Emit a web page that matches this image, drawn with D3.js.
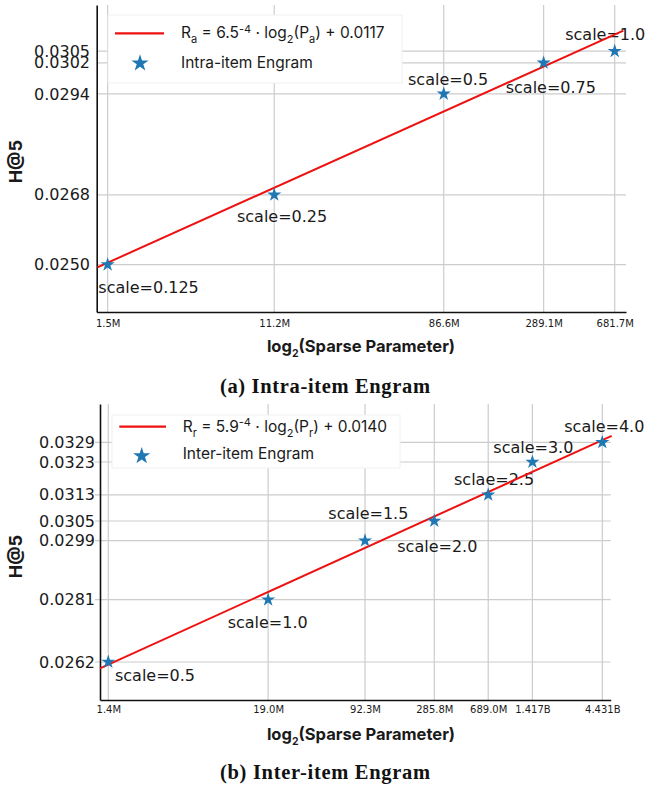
<!DOCTYPE html>
<html><head><meta charset="utf-8">
<script src="https://cdn.jsdelivr.net/npm/d3@7"></script>
<style>body{margin:0;background:#fff} svg{display:block}</style>
</head><body><svg id="c" width="645" height="788"></svg>
<script>
// ---------- Data: (a) Intra-item Engram ----------
const paramsA = [1.5e6, 11.2e6, 86.6e6, 289.1e6, 681.7e6];
const h5A = [0.0250, 0.0268, 0.0294, 0.0302, 0.0305];
const pointLabelsA = ["scale=0.125", "scale=0.25", "scale=0.5", "scale=0.75", "scale=1.0"];
const xTickLabelsA = ["1.5M", "11.2M", "86.6M", "289.1M", "681.7M"];
const yTicksA = [0.0250, 0.0268, 0.0294, 0.0302, 0.0305];
const fitA = [0.000666, 0.011386];          // slope, intercept (vs log2 P)
const fitRangeA = [20.338, 29.495];         // log2 P extent of fitted line
const legendFormulaA = [["R", ""], ["a", "sub"], [" = 6.5", ""], ["-4", "sup"], [" · log", ""], ["2", "sub"], ["(P", ""], ["a", "sub"], [") + 0.0117", ""]];
const legendSeriesA = "Intra-item Engram";
const captionA = "(a) Intra-item Engram";

// ---------- Data: (b) Inter-item Engram ----------
const paramsB = [1.4e6, 19.0e6, 92.3e6, 285.8e6, 689.0e6, 1.417e9, 4.431e9];
const h5B = [0.0262, 0.0281, 0.0299, 0.0305, 0.0313, 0.0323, 0.0329];
const pointLabelsB = ["scale=0.5", "scale=1.0", "scale=1.5", "scale=2.0", "sclae=2.5", "scale=3.0", "scale=4.0"];
const xTickLabelsB = ["1.4M", "19.0M", "92.3M", "285.8M", "689.0M", "1.417B", "4.431B"];
const yTicksB = [0.0262, 0.0281, 0.0299, 0.0305, 0.0313, 0.0323, 0.0329];
const fitB = [0.000589, 0.014094];
const fitRangeB = [20.222, 32.266];
const legendFormulaB = [["R", ""], ["r", "sub"], [" = 5.9", ""], ["-4", "sup"], [" · log", ""], ["2", "sub"], ["(P", ""], ["r", "sub"], [") + 0.0140", ""]];
const legendSeriesB = "Inter-item Engram";
const captionB = "(b) Inter-item Engram";

const xTitle = [["log", ""], ["2", "sub"], ["(Sparse Parameter)", ""]];
const yTitle = "H@5";

// ---------- Layout ----------
const layoutA = {
  left: 96.7, right: 626, top: 5, bottom: 312,
  xLog2Domain: [20.326, 29.541], yDomain: [0.02378, 0.03169],
  yTickPad: 6.7, yTickLen: 0, xTickPad: 7.5,
  legend: { x: 108, y: 15, w: 294, h: 68, lineY: 33.3, lineX: [115, 164], starX: 140, starY: 63.3, textX: 181, dy1: 5, dy2: 4.4 },
  yTitle: [21.5, 161.7], xTitle: [361, 351.7], caption: [325, 392.7],
  labelOffsets: [[-9.3, 28.4], [-37.3, 27.7], [-35.7, -8.9], [-37.9, 30.2], [-49.5, -10.7]]
};
const layoutB = {
  left: 100, right: 610.7, top: 404, bottom: 700,
  xLog2Domain: [20.222, 32.243], yDomain: [0.02504, 0.03407],
  yTickPad: 5, yTickLen: 5, xTickPad: 6.2,
  legend: { x: 112, y: 415, w: 288, h: 53, lineY: 426.7, lineX: [119.3, 166], starX: 141.7, starY: 456, textX: 182.7, dy1: 5, dy2: 3.3 },
  yTitle: [21.5, 556.5], xTitle: [361, 740], caption: [325, 779],
  labelOffsets: [[6.7, 19.5], [-40.5, 28.6], [-36.7, -21.7], [-37, 30.7], [-34.2, -9.8], [-39.1, -9.3], [-38, -10.6]]
};

const GRID = "#cccccc", RED = "#ee1111", BLUE = "#1f77b4", TXT = "#1a1a1a";
const svg = d3.select("#c");

function richText(sel, segs, baseSize, subSize) {
  let shift = 0;
  segs.forEach(([t, kind]) => {
    const target = kind === "sub" ? 5 : kind === "sup" ? -5.5 : 0;
    sel.append("tspan").text(t)
      .attr("dy", target - shift)
      .attr("font-size", kind ? subSize : baseSize);
    shift = target;
  });
}

function panel(L, d) {
  const g = svg.append("g");
  const x = d3.scaleLog().base(2).domain(L.xLog2Domain.map(v => Math.pow(2, v))).range([L.left, L.right]);
  const y = d3.scaleLinear().domain(L.yDomain).range([L.bottom, L.top]);

  // grid
  g.append("g").selectAll("line").data(d.params).join("line")
    .attr("x1", v => x(v)).attr("x2", v => x(v))
    .attr("y1", L.top).attr("y2", L.bottom)
    .attr("stroke", GRID).attr("stroke-width", 1.2);
  g.append("g").selectAll("line").data(d.yTicks).join("line")
    .attr("x1", L.left - L.yTickLen).attr("x2", L.right)
    .attr("y1", v => y(v)).attr("y2", v => y(v))
    .attr("stroke", GRID).attr("stroke-width", 1.2);

  // axes
  const xa = g.append("g").attr("transform", `translate(0,${L.bottom})`)
    .call(d3.axisBottom(x).tickValues(d.params).tickFormat((v, i) => d.xTickLabels[i])
      .tickSizeInner(0).tickSizeOuter(0).tickPadding(L.xTickPad));
  xa.select(".domain").attr("stroke", "#111").attr("stroke-width", 1.6);
  xa.selectAll("text").attr("font-family", "DejaVu Sans").attr("font-size", 10).attr("fill", TXT);

  const ya = g.append("g").attr("transform", `translate(${L.left},0)`)
    .call(d3.axisLeft(y).tickValues(d.yTicks).tickFormat(d3.format(".4f"))
      .tickSizeInner(0).tickSizeOuter(0).tickPadding(L.yTickPad));
  ya.select(".domain").attr("stroke", "#111").attr("stroke-width", 1.6);
  ya.selectAll("text").attr("font-family", "DejaVu Sans").attr("font-size", 16).attr("fill", TXT);

  // point labels
  g.append("g").selectAll("text").data(d.params).join("text")
    .attr("x", (v, i) => x(v) + L.labelOffsets[i][0])
    .attr("y", (v, i) => y(d.h5[i]) + L.labelOffsets[i][1])
    .attr("font-family", "DejaVu Sans").attr("font-size", 16).attr("fill", TXT)
    .text((v, i) => d.labels[i]);

  // fit line
  const lineX = d.fitRange.map(v => Math.pow(2, v));
  g.append("path").datum(lineX)
    .attr("d", d3.line().x(v => x(v)).y(v => y(d.fit[0] * Math.log2(v) + d.fit[1])))
    .attr("stroke", RED).attr("stroke-width", 2).attr("fill", "none");

  // stars
  g.append("g").selectAll("path").data(d.params).join("path")
    .attr("transform", (v, i) => `translate(${x(v)},${y(d.h5[i])})`)
    .attr("d", d3.symbol(d3.symbolStar, 62))
    .attr("fill", BLUE);

  // legend
  const lg = L.legend;
  g.append("rect").attr("x", lg.x).attr("y", lg.y).attr("width", lg.w).attr("height", lg.h)
    .attr("fill", "#fff").attr("stroke", "#f0f0f0").attr("stroke-width", 1);
  g.append("line").attr("x1", lg.lineX[0]).attr("x2", lg.lineX[1]).attr("y1", lg.lineY).attr("y2", lg.lineY)
    .attr("stroke", RED).attr("stroke-width", 2.2);
  g.append("path").attr("transform", `translate(${lg.starX},${lg.starY})`)
    .attr("d", d3.symbol(d3.symbolStar, 92)).attr("fill", BLUE);
  const t1 = g.append("text").attr("x", lg.textX).attr("y", lg.lineY + lg.dy1)
    .attr("font-family", "Inter").attr("fill", TXT);
  richText(t1, d.formula, 15.5, 11);
  g.append("text").attr("x", lg.textX).attr("y", lg.starY + lg.dy2)
    .attr("font-family", "Inter").attr("font-size", 15.5).attr("fill", TXT).text(d.series);

  // titles
  const xt = g.append("text").attr("x", L.xTitle[0]).attr("y", L.xTitle[1])
    .attr("text-anchor", "middle").attr("font-family", "Inter").attr("font-weight", 700).attr("fill", TXT);
  richText(xt, xTitle, 16.5, 10.5);
  g.append("text").attr("transform", `translate(${L.yTitle[0]},${L.yTitle[1]}) rotate(-90)`)
    .attr("text-anchor", "middle").attr("font-family", "Inter").attr("font-weight", 700)
    .attr("font-size", 18).attr("fill", TXT).text(yTitle);

  // caption
  g.append("text").attr("x", L.caption[0]).attr("y", L.caption[1])
    .attr("text-anchor", "middle").attr("font-family", "Liberation Serif").attr("font-weight", 700)
    .attr("font-size", 20.5).attr("textLength", 210).attr("lengthAdjust", "spacing")
    .attr("fill", "#111").text(d.caption);
}

panel(layoutA, { params: paramsA, h5: h5A, labels: pointLabelsA, xTickLabels: xTickLabelsA, yTicks: yTicksA,
  fit: fitA, fitRange: fitRangeA, formula: legendFormulaA, series: legendSeriesA, caption: captionA });
panel(layoutB, { params: paramsB, h5: h5B, labels: pointLabelsB, xTickLabels: xTickLabelsB, yTicks: yTicksB,
  fit: fitB, fitRange: fitRangeB, formula: legendFormulaB, series: legendSeriesB, caption: captionB });
</script></body></html>
